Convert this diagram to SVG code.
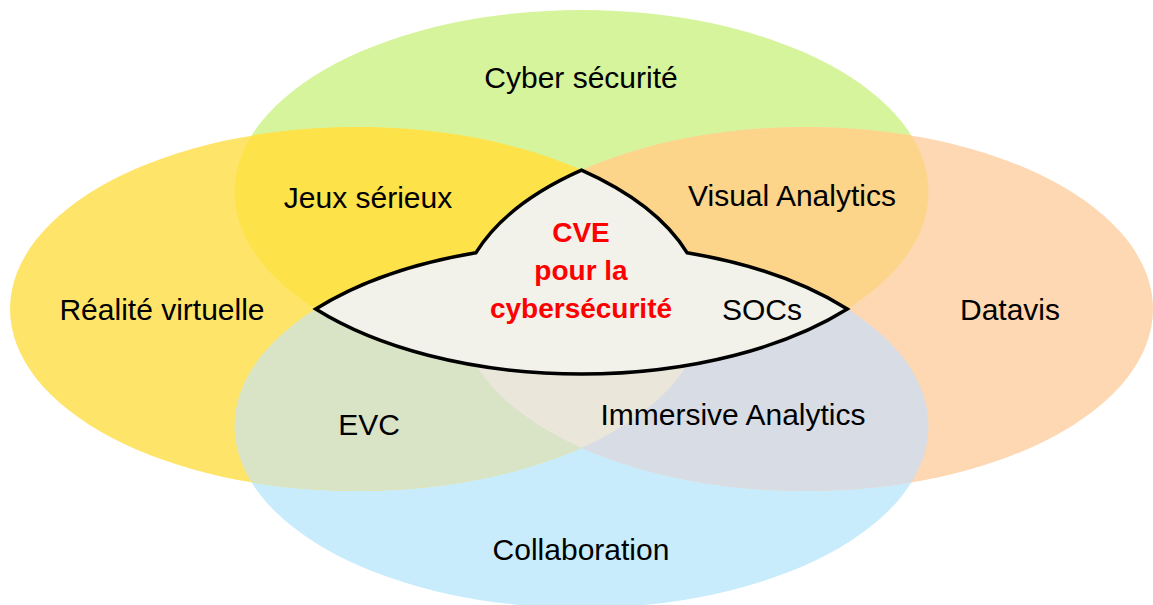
<svg xmlns="http://www.w3.org/2000/svg" width="1153" height="605" viewBox="0 0 1153 605">
<defs>
<style>
.lbl{font-family:"Liberation Sans",Arial,sans-serif;font-size:30px;fill:#000;text-anchor:middle}
.red{font-family:"Liberation Sans",Arial,sans-serif;font-size:28px;font-weight:bold;fill:#FF0000;text-anchor:middle}
</style>
<clipPath id="clipY"><ellipse cx="357" cy="309" rx="347" ry="182"/></clipPath>
<clipPath id="clipO"><ellipse cx="806" cy="309" rx="347" ry="182"/></clipPath>
<clipPath id="clipB"><ellipse cx="581.5" cy="426" rx="347" ry="182"/></clipPath>
</defs>
<rect width="1153" height="605" fill="#FFFFFF"/>
<g id="cyber">
<ellipse cx="581.5" cy="192" rx="347" ry="182" fill="#D5F49B"/>
</g>
<g id="collaboration">
<ellipse cx="581.5" cy="426" rx="347" ry="182" fill="#C8ECFC"/>
</g>
<g id="realite">
<ellipse cx="357" cy="309" rx="347" ry="182" fill="#FEE56A"/>
</g>
<g id="datavis">
<ellipse cx="806" cy="309" rx="347" ry="182" fill="#FDD8B2"/>
</g>
<g id="overlaps">
<ellipse cx="581.5" cy="192" rx="347" ry="182" fill="#FDE249" clip-path="url(#clipY)"/>
<ellipse cx="581.5" cy="192" rx="347" ry="182" fill="#FCD58B" clip-path="url(#clipO)"/>
<ellipse cx="581.5" cy="426" rx="347" ry="182" fill="#D9E4C6" clip-path="url(#clipY)"/>
<ellipse cx="581.5" cy="426" rx="347" ry="182" fill="#D8DCE5" clip-path="url(#clipO)"/>
<g clip-path="url(#clipO)"><ellipse cx="357" cy="309" rx="347" ry="182" fill="#EAE6D9"/></g>
</g>
<g id="cve">
<path d="M315.7 309 A347 182 0 0 1 476 252.7 A347 182 0 0 1 581.5 170.2 A347 182 0 0 1 687 252.7 A347 182 0 0 1 847.3 309 A347 182 0 0 1 315.7 309 Z" fill="#F2F2EA" stroke="#000" stroke-width="3.5" stroke-linejoin="miter"/>
<text class="red" x="581" y="242">CVE</text>
<text class="red" x="581" y="280">pour la</text>
<text class="red" x="581" y="318">cybersécurité</text>
</g>
<g id="labels">
<text class="lbl" x="581" y="88">Cyber sécurité</text>
<text class="lbl" x="368" y="208">Jeux sérieux</text>
<text class="lbl" x="792" y="206">Visual Analytics</text>
<text class="lbl" x="162" y="320">Réalité virtuelle</text>
<text class="lbl" x="762" y="320">SOCs</text>
<text class="lbl" x="1010" y="320">Datavis</text>
<text class="lbl" x="369" y="435">EVC</text>
<text class="lbl" x="733" y="425">Immersive Analytics</text>
<text class="lbl" x="581" y="560">Collaboration</text>
</g>
</svg>
